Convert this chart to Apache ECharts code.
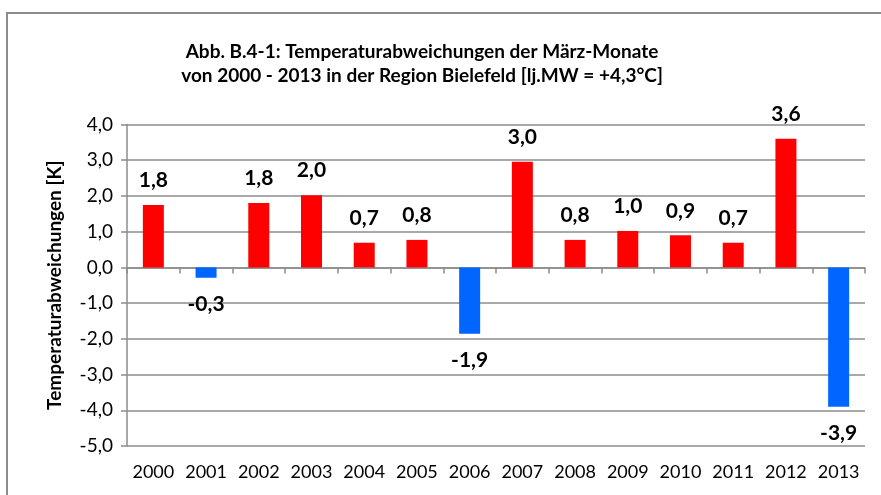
<!DOCTYPE html>
<html>
<head>
<meta charset="utf-8">
<script src="https://cdn.jsdelivr.net/npm/echarts@6/dist/echarts.min.js"></script>
<style>html,body{margin:0;padding:0;background:#fff;}#c{width:881px;height:495px;}</style>
</head>
<body>
<div id="c"></div>
<script>
const years = ['2000','2001','2002','2003','2004','2005','2006','2007','2008','2009','2010','2011','2012','2013'];
const deviations = [1.75, -0.29, 1.8, 2.02, 0.69, 0.77, -1.86, 2.96, 0.77, 1.02, 0.9, 0.69, 3.6, -3.9];
const yTicks = [-5, -4, -3, -2, -1, 0, 1, 2, 3, 4];
const titleText = 'Abb. B.4-1: Temperaturabweichungen der März-Monate\nvon 2000 - 2013 in der Region Bielefeld [lj.MW = +4,3°C]';
const yName = 'Temperaturabweichungen [K]';

const fmt = v => (Math.round(v * 10) / 10).toFixed(1).replace('.', ',');
const FONT = 'Lato, "Open Sans", sans-serif';

const chart = echarts.init(document.getElementById('c'), null, {renderer: 'canvas'});
chart.setOption({
  animation: false,
  backgroundColor: '#fff',
  title: {
    text: titleText,
    left: 417,
    textAlign: 'center',
    top: 35,
    textStyle: {fontFamily: FONT, fontWeight: 'bold', fontSize: 19, lineHeight: 24, color: '#000'}
  },
  grid: {left: 127, right: 16, top: 124.5, bottom: 49, containLabel: false},
  xAxis: [
    {
      type: 'category', data: years, position: 'bottom',
      axisLine: {show: true, onZero: true, lineStyle: {color: '#8c8c8c', width: 1.5}},
      axisTick: {show: true, length: 6, interval: 0, lineStyle: {color: '#8c8c8c', width: 1.5}},
      axisLabel: {show: false}
    },
    {
      type: 'category', data: years, position: 'bottom',
      axisLine: {show: false, onZero: false},
      axisTick: {show: false},
      axisLabel: {show: true, interval: 0, fontFamily: FONT, fontSize: 18, color: '#000', margin: 17}
    }
  ],
  yAxis: {
    type: 'value', min: yTicks[0], max: yTicks[yTicks.length - 1], interval: 1,
    name: yName, nameLocation: 'middle', nameGap: 63, nameRotate: 90,
    nameTextStyle: {fontFamily: FONT, fontWeight: 'bold', fontSize: 19, color: '#000'},
    axisLine: {show: true, lineStyle: {color: '#8c8c8c', width: 1.5}},
    axisTick: {show: true, length: 6, lineStyle: {color: '#8c8c8c', width: 1.5}},
    axisLabel: {fontFamily: FONT, fontSize: 19, color: '#000', margin: 14, formatter: v => fmt(v)},
    splitLine: {show: true, lineStyle: {color: '#8c8c8c', width: 1.5}}
  },
  series: [{
    type: 'bar', xAxisIndex: 0,
    barWidth: 21,
    data: deviations.map(v => ({
      value: v,
      itemStyle: {color: v >= 0 ? '#ff0000' : '#0066ff'},
      label: {position: v >= 0 ? 'top' : 'bottom', distance: v >= 0 ? 14 : 16}
    })),
    label: {show: true, fontFamily: FONT, fontWeight: 'bold', fontSize: 21, color: '#000', formatter: p => fmt(p.value)}
  }],
  graphic: [
    {type: 'line', shape: {x1: 6, y1: 13, x2: 881, y2: 13}, style: {stroke: '#8c8c8c', lineWidth: 2}, z: 10},
    {type: 'line', shape: {x1: 7, y1: 12, x2: 7, y2: 495}, style: {stroke: '#8c8c8c', lineWidth: 2}, z: 10}
  ]
});
</script>
</body>
</html>
